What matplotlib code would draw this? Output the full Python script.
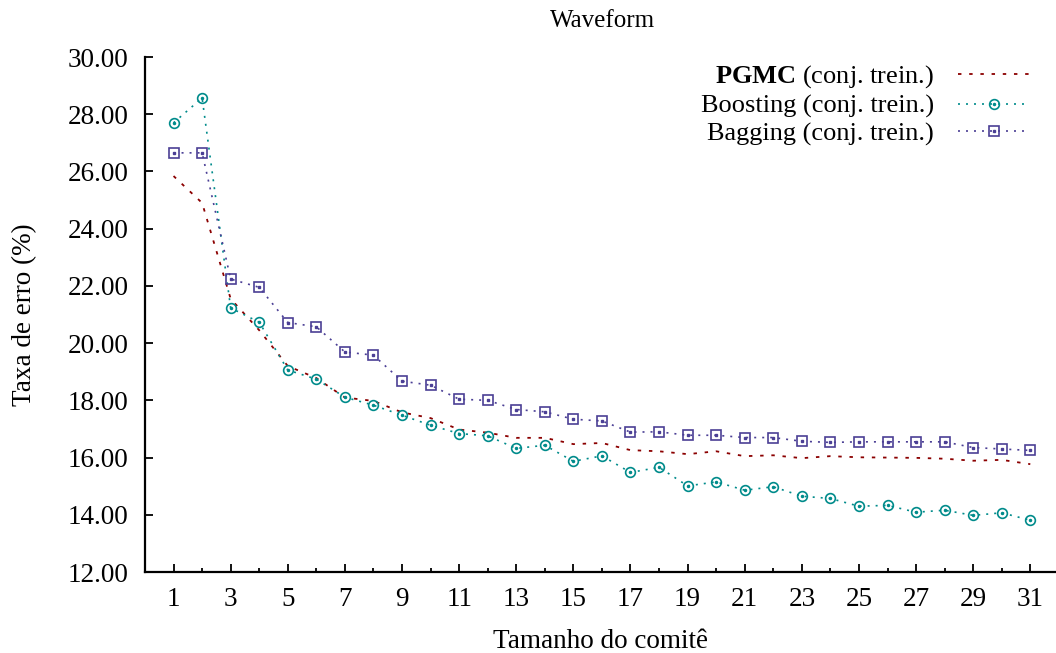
import matplotlib
matplotlib.use("Agg")
import matplotlib.pyplot as plt
from matplotlib.legend_handler import HandlerTuple

plt.rcParams['font.family'] = 'Liberation Serif'
plt.rcParams['mathtext.fontset'] = 'custom'
plt.rcParams['mathtext.bf'] = 'Liberation Serif:bold'
plt.rcParams['mathtext.rm'] = 'Liberation Serif'

# Tamanho do comite
x = list(range(1, 32))

pgmc = [25.84, 24.9, 21.55, 20.45, 19.2, 18.78, 18.1, 17.98, 17.58, 17.38,
        16.98, 16.87, 16.69, 16.69, 16.47, 16.51, 16.26, 16.22, 16.12, 16.22,
        16.05, 16.08, 15.98, 16.05, 16.01, 16.0, 15.99, 15.96, 15.89, 15.92,
        15.77]
boosting = [27.70, 28.57, 21.23, 20.73, 19.06, 18.74, 18.11, 17.83, 17.48, 17.13,
            16.84, 16.76, 16.32, 16.43, 15.87, 16.06, 15.48, 15.66, 15.01, 15.15,
            14.86, 14.98, 14.65, 14.57, 14.30, 14.33, 14.09, 14.16, 13.98, 14.07,
            13.81]
bagging = [26.65, 26.65, 22.24, 21.95, 20.72, 20.57, 19.69, 19.58, 18.67, 18.53,
           18.04, 18.0, 17.68, 17.60, 17.34, 17.28, 16.89, 16.90, 16.78, 16.78,
           16.70, 16.70, 16.57, 16.53, 16.55, 16.55, 16.55, 16.55, 16.35, 16.30,
           16.25]

red = '#8b0000'
teal = '#008b8b'
purple = '#4b3f95'

fig = plt.figure(figsize=(10.56, 6.53), dpi=100)
ax = fig.add_axes([0.1373, 0.124, 0.8627, 0.7887])

l1, = ax.plot(x, pgmc, color=red, lw=1.3, linestyle=(0, (1.9, 4.3)))
l2, = ax.plot(x, boosting, color=teal, lw=1.2, linestyle=(0, (1.2, 3.6)),
              marker='o', ms=7, mfc='none', mec=teal, mew=1.2)
d2, = ax.plot(x, boosting, color=teal, lw=0, marker='o', ms=1.5)
l3, = ax.plot(x, bagging, color=purple, lw=1.2, linestyle=(0, (1.2, 3.6)),
              marker='s', ms=7, mfc='none', mec=purple, mew=1.2)
d3, = ax.plot(x, bagging, color=purple, lw=0, marker='s', ms=1.5)

ax.set_xlim(0, 31.9)
ax.set_ylim(12, 30)
ax.set_xticks(range(1, 32, 2))
ax.set_xticks(range(2, 32, 2), minor=True)
ax.set_yticks(range(12, 31, 2))
ax.set_yticklabels(['%.2f' % v for v in range(12, 31, 2)])

for s in ['top', 'right']:
    ax.spines[s].set_visible(False)
for s in ['left', 'bottom']:
    ax.spines[s].set_linewidth(1.6)

ax.tick_params(axis='both', which='major', direction='in', length=6, width=1.3,
               labelsize=19.5)
ax.tick_params(axis='x', which='minor', direction='in', length=3, width=1.3)
ax.tick_params(axis='x', which='major', pad=11)
ax.tick_params(axis='y', which='major', pad=12)

ax.set_xlabel('Tamanho do comitê', fontsize=19.5, labelpad=12)
ax.set_ylabel('Taxa de erro (%)', fontsize=19.5, labelpad=22)
fig.suptitle('Waveform', fontsize=18, x=0.571, y=0.985)

ax.legend([l1, (l2, d2), (l3, d3)],
          [r'$\mathbf{PGMC}$ (conj. trein.)', 'Boosting (conj. trein.)',
           'Bagging (conj. trein.)'],
          handler_map={tuple: HandlerTuple(ndivide=1, pad=0)},
          loc='upper right', bbox_to_anchor=(0.988, 1.018), frameon=False,
          markerfirst=False, fontsize=19, handlelength=2.7,
          labelspacing=0.15, handletextpad=0.9, borderaxespad=0.2)

fig.savefig('out.png', dpi=100)
